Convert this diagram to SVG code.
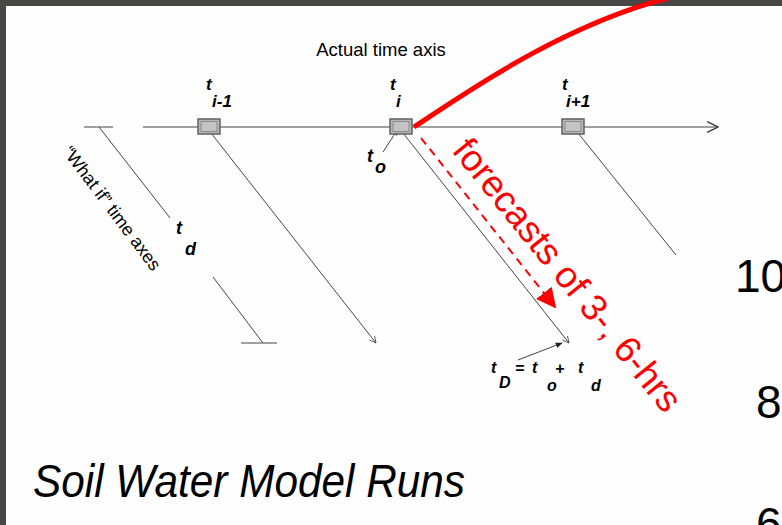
<svg xmlns="http://www.w3.org/2000/svg" width="782" height="525" viewBox="0 0 782 525">
<style>
.lbl{font-family:"Liberation Sans",Arial,sans-serif;fill:#000}
.bi{font-family:"Liberation Sans",Arial,sans-serif;font-style:italic;font-weight:bold;fill:#000}
.ln{stroke:#444;stroke-width:1;fill:none}
.box{fill:#b8b8b8;stroke:#606060;stroke-width:1.5}
.boxi{fill:#c4c4c4;stroke:#8a8a8a;stroke-width:1}
</style>
<defs>
<marker id="open" viewBox="0 0 10 10" refX="9" refY="5" markerWidth="8" markerHeight="8" orient="auto" markerUnits="userSpaceOnUse">
<path d="M1,1 L9,5 L1,9" fill="none" stroke="#444" stroke-width="1"/>
</marker>
<marker id="axisArr" viewBox="0 0 12 12" refX="11" refY="6" markerWidth="13" markerHeight="13" orient="auto" markerUnits="userSpaceOnUse">
<path d="M1,1 L11,6 L1,11" fill="none" stroke="#333" stroke-width="1.2"/>
</marker>
<marker id="small" viewBox="0 0 10 10" refX="9" refY="5" markerWidth="7" markerHeight="7" orient="auto" markerUnits="userSpaceOnUse">
<path d="M0,1 L10,5 L0,9 Z" fill="#222"/>
</marker>
<marker id="red" viewBox="0 0 10 10" refX="9" refY="5" markerWidth="20" markerHeight="20" orient="auto" markerUnits="userSpaceOnUse">
<path d="M0,0 L10,5 L0,10 Z" fill="#ff0000"/>
</marker>
</defs>
<rect x="0" y="0" width="782" height="525" fill="#474745"/>
<rect x="6" y="6" width="776" height="519" fill="#fefefe"/>

<g id="connectors">
<line class="ln" x1="143" y1="127" x2="718" y2="127" stroke="#333" marker-end="url(#axisArr)"/>
<line class="ln" x1="84" y1="127" x2="113" y2="127"/>
<line class="ln" x1="99" y1="127" x2="170" y2="218"/>
<line class="ln" x1="213" y1="277" x2="263" y2="343"/>
<line class="ln" x1="241" y1="343" x2="277" y2="343"/>
<line class="ln" x1="207" y1="128" x2="376" y2="343" marker-end="url(#open)"/>
<line class="ln" x1="399" y1="128" x2="569" y2="343" marker-end="url(#open)"/>
<line class="ln" x1="574" y1="128" x2="676" y2="255"/>
<line class="ln" x1="383" y1="152" x2="398" y2="129" marker-end="url(#small)"/>
<line class="ln" x1="518" y1="360" x2="562" y2="343" marker-end="url(#small)"/>
<path d="M414,127 C460,97 560,25 672,-3" fill="none" stroke="#ff0000" stroke-width="5"/>
<line x1="421" y1="138" x2="555" y2="307" stroke="#ff0000" stroke-width="2" stroke-dasharray="8,6" marker-end="url(#red)"/>
</g>

<g id="box-im1"><rect class="box" x="198" y="119" width="22" height="15"/><rect class="boxi" x="201" y="121.5" width="16" height="10"/></g>
<g id="box-i"><rect class="box" x="390" y="119" width="22" height="15"/><rect class="boxi" x="393" y="121.5" width="16" height="10"/></g>
<g id="box-ip1"><rect class="box" x="562" y="119" width="22" height="15"/><rect class="boxi" x="565" y="121.5" width="16" height="10"/></g>

<g id="title-axis"><text class="lbl" x="381" y="56" font-size="18.5" text-anchor="middle">Actual time axis</text></g>

<g id="label-tim1"><text class="bi" x="206" y="90" font-size="17">t</text><text class="bi" x="212" y="107" font-size="17">i-1</text></g>
<g id="label-ti"><text class="bi" x="390" y="90" font-size="17">t</text><text class="bi" x="396" y="107" font-size="17">i</text></g>
<g id="label-tip1"><text class="bi" x="562" y="90" font-size="17">t</text><text class="bi" x="566" y="107" font-size="17">i+1</text></g>
<g id="label-to"><text class="bi" x="367" y="162" font-size="18">t</text><text class="bi" x="375" y="173" font-size="18">o</text></g>
<g id="label-td"><text class="bi" x="176" y="234" font-size="18">t</text><text class="bi" x="185" y="255" font-size="18">d</text></g>
<g id="label-tD">
<text class="bi" x="491" y="373" font-size="16">t</text>
<text class="bi" x="499" y="388" font-size="16">D</text>
<text class="bi" x="515" y="374" font-size="16">=</text>
<text class="bi" x="532" y="373" font-size="16">t</text>
<text class="bi" x="555" y="374" font-size="16">+</text>
<text class="bi" x="547" y="391" font-size="16">o</text>
<text class="bi" x="578" y="373" font-size="16">t</text>
<text class="bi" x="591" y="391" font-size="16">d</text>
</g>

<g id="label-whatif"><text class="lbl" font-size="18" transform="translate(62,152) rotate(53)">“What if” time axes</text></g>
<g id="label-forecast"><text font-family="'Liberation Sans',Arial,sans-serif" fill="#ff0000" font-size="37" transform="translate(451,151) rotate(51)">forecasts of 3-, 6-hrs</text></g>

<g id="title"><text class="lbl" x="33" y="497" font-size="46" font-style="italic" textLength="432" lengthAdjust="spacingAndGlyphs">Soil Water Model Runs</text></g>

<g id="axis-numbers">
<text class="lbl" x="735" y="292" font-size="46">100</text>
<text class="lbl" x="756" y="418" font-size="46">80</text>
<text class="lbl" x="756" y="540" font-size="46">60</text>
</g>
</svg>
